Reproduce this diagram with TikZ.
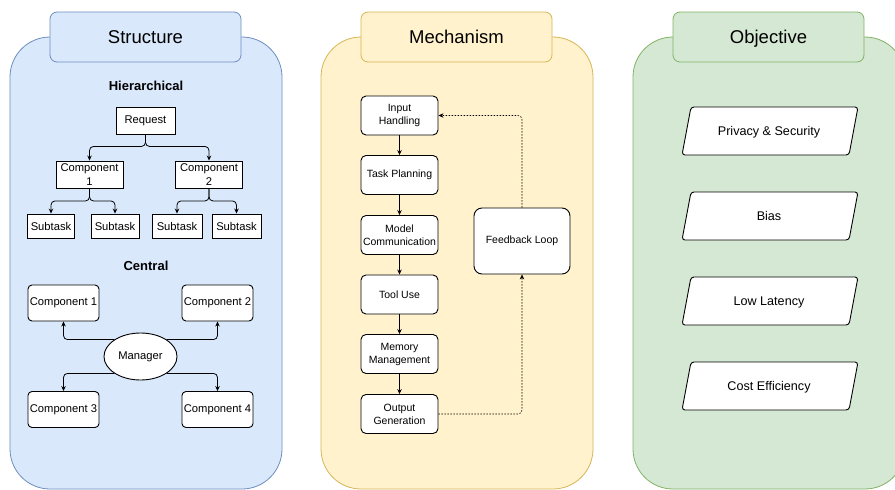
\documentclass[tikz,border=0pt]{standalone}
\usepackage{fontspec}
\setmainfont{Liberation Sans}
\usetikzlibrary{arrows.meta,shapes.geometric,calc}
\definecolor{bfill}{HTML}{DAE8FC}\definecolor{bline}{HTML}{6C8EBF}
\definecolor{yfill}{HTML}{FFF2CC}\definecolor{yline}{HTML}{D6B656}
\definecolor{gfill}{HTML}{D5E8D4}\definecolor{gline}{HTML}{82B366}
\begin{document}
\begin{tikzpicture}[x=1pt,y=-1pt,
  panel/.style={line width=0.8pt, rounded corners=40pt},
  tab/.style={line width=0.8pt, rounded corners=7pt},
  title/.style={font=\fontsize{18.5}{22}\selectfont, inner sep=0pt, anchor=base},
  heading/.style={font=\bfseries\fontsize{13}{15}\selectfont, inner sep=0pt},
  hbox/.style={draw, fill=white, line width=0.9pt, inner sep=1pt, align=center,
    font=\fontsize{11.2}{14}\selectfont},
  cbox/.style={hbox, rounded corners=4pt, minimum width=71pt, minimum height=36pt},
  mbox/.style={draw, fill=white, line width=0.9pt, inner sep=1pt, align=center,
    rounded corners=5pt, minimum width=77pt, minimum height=39pt,
    font=\fontsize{10.5}{13}\selectfont},
  otext/.style={inner sep=0pt, anchor=base, font=\fontsize{12.6}{15}\selectfont},
  oshape/.style={draw, fill=white, line width=0.9pt, rounded corners=3pt},
  arr/.style={-{Stealth[length=5pt,width=4.5pt]}, line width=0.8pt, rounded corners=4pt},
  darr/.style={arr, line width=0.6pt, dash pattern=on 1.5pt off 1.5pt}
]
\useasboundingbox (0,0) rectangle (895,490);
\clip (0,0) rectangle (895,490);

% ---------- panels ----------
\draw[panel, fill=bfill, draw=bline] (10,37) rectangle (282,489);
\draw[tab, fill=bfill, draw=bline] (50,12) rectangle (241,62);
\node[title] (t1) at (145.5,43.5) {Structure};

\draw[panel, fill=yfill, draw=yline] (321,37) rectangle (593,489);
\draw[tab, fill=yfill, draw=yline] (361,12) rectangle (552,62);
\node[title] (t2) at (456.5,43.5) {Mechanism};

\draw[panel, fill=gfill, draw=gline] (633,37) rectangle (905,489);
\draw[tab, fill=gfill, draw=gline] (673,12) rectangle (864,62);
\node[title] (t3) at (768.5,43.5) {Objective};

% ---------- Structure: hierarchical ----------
\node[heading] (hh) at (146,86) {Hierarchical};
\node[hbox, minimum width=59pt, minimum height=27pt] (req) at (145.5,120.5) {Request};
\node[hbox, minimum width=67pt, minimum height=27pt] (h1) at (89.5,174.5) {Component\\1};
\node[hbox, minimum width=67pt, minimum height=27pt] (h2) at (209,174.5) {Component\\2};
\node[hbox, minimum width=47pt, minimum height=24pt] (s1) at (51,226) {Subtask};
\node[hbox, minimum width=48pt, minimum height=24pt] (s2) at (115,226) {Subtask};
\node[hbox, minimum width=50pt, minimum height=24pt] (s3) at (177,226) {Subtask};
\node[hbox, minimum width=49pt, minimum height=24pt] (s4) at (236.5,226) {Subtask};
\draw[arr] (req.south) -- ++(0,12) -| (h1.north);
\draw[arr] (req.south) -- ++(0,12) -| (h2.north);
\draw[arr] (h1.south) -- ++(0,12.5) -| (s1.north);
\draw[arr] (h1.south) -- ++(0,12.5) -| (s2.north);
\draw[arr] (h2.south) -- ++(0,12.5) -| (s3.north);
\draw[arr] (h2.south) -- ++(0,12.5) -| (s4.north);

% ---------- Structure: central ----------
\node[heading] (hc) at (146,266) {Central};
\node[cbox] (c1) at (63.5,303) {Component 1};
\node[cbox] (c2) at (217.5,303) {Component 2};
\node[cbox] (c3) at (63.5,409.5) {Component 3};
\node[cbox] (c4) at (217.5,409.5) {Component 4};
\node[draw, fill=white, ellipse, line width=0.9pt, inner sep=0pt, minimum width=73pt,
  minimum height=47pt, font=\fontsize{11.2}{14}\selectfont] (mgr) at (140.5,356.5) {Manager};
\draw[arr] (mgr.north west) -| (c1.south);
\draw[arr] (mgr.north east) -| (c2.south);
\draw[arr] (mgr.south west) -| (c3.north);
\draw[arr] (mgr.south east) -| (c4.north);

% ---------- Mechanism ----------
\node[mbox] (m1) at (399.5,115.5) {Input\\Handling};
\node[mbox] (m2) at (399.5,175) {Task Planning};
\node[mbox] (m3) at (399.5,235) {Model\\Communication};
\node[mbox] (m4) at (399.5,294.5) {Tool Use};
\node[mbox] (m5) at (399.5,354) {Memory\\Management};
\node[mbox] (m6) at (399.5,414) {Output\\Generation};
\node[mbox, rounded corners=8pt, minimum width=96pt, minimum height=66pt] (fb) at (522,241) {Feedback Loop};
\draw[arr] (m1) -- (m2);
\draw[arr] (m2) -- (m3);
\draw[arr] (m3) -- (m4);
\draw[arr] (m4) -- (m5);
\draw[arr] (m5) -- (m6);
\draw[darr] (fb.north) |- (m1.east);
\draw[darr] (m6.east) -| (fb.south);

% ---------- Objective ----------
\begin{scope}[shift={(770,131)}]
  \draw[oshape] (-79,-24) -- (88,-24) -- (79,24) -- (-88,24) -- cycle;
  \node[otext] (o1) at (-1,4.4) {Privacy \& Security};
\end{scope}
\begin{scope}[shift={(770,216)}]
  \draw[oshape] (-79,-24) -- (88,-24) -- (79,24) -- (-88,24) -- cycle;
  \node[otext] (o2) at (-1,4.4) {Bias};
\end{scope}
\begin{scope}[shift={(770,301)}]
  \draw[oshape] (-79,-24) -- (88,-24) -- (79,24) -- (-88,24) -- cycle;
  \node[otext] (o3) at (-1,4.4) {Low Latency};
\end{scope}
\begin{scope}[shift={(770,386)}]
  \draw[oshape] (-79,-24) -- (88,-24) -- (79,24) -- (-88,24) -- cycle;
  \node[otext] (o4) at (-1,4.4) {Cost Efficiency};
\end{scope}
\end{tikzpicture}
\end{document}
